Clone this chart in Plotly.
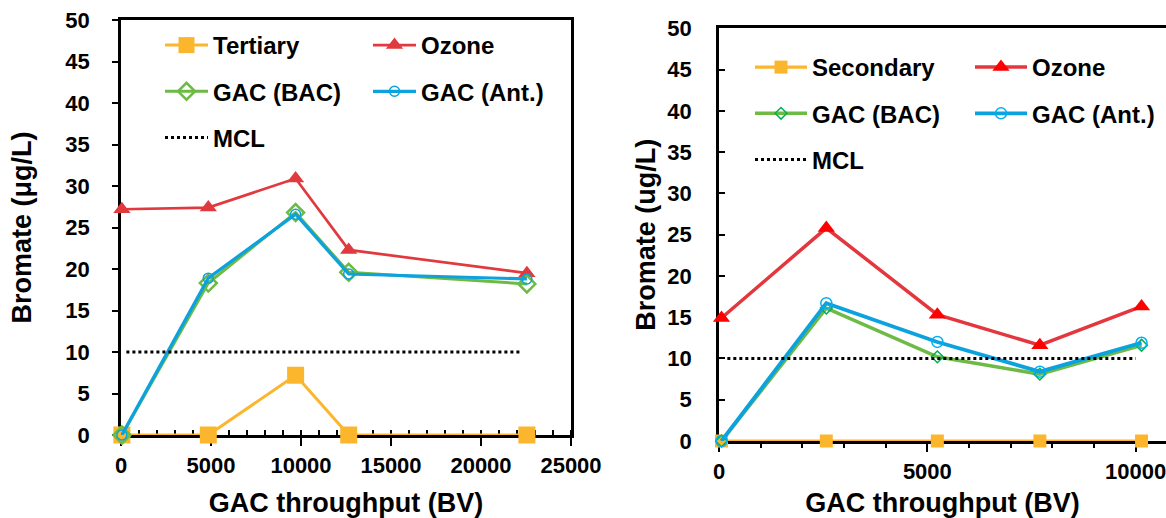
import plotly.graph_objects as go

# ---- Left panel: tertiary effluent ----
bv_left = [50, 4850, 9700, 12650, 22550]
tertiary = [0, 0, 7.2, 0, 0]
ozone_left = [27.2, 27.4, 30.9, 22.3, 19.5]
gac_bac_left = [0, 18.3, 26.8, 19.6, 18.2]
gac_ant_left = [0, 18.9, 26.6, 19.4, 18.8]
mcl_left_x = [300, 22300]
mcl_left_y = [10, 10]

# ---- Right panel: secondary effluent ----
bv_right = [60, 2575, 5240, 7700, 10140]
secondary = [0, 0, 0, 0, 0]
ozone_right = [14.9, 25.8, 15.3, 11.6, 16.3]
gac_bac_right = [0, 16.1, 10.2, 8.1, 11.6]
gac_ant_right = [0, 16.7, 12.0, 8.4, 11.9]
mcl_right_x = [200, 10000]
mcl_right_y = [10, 10]

# ---- Tick labels ----
y_ticks = [0, 5, 10, 15, 20, 25, 30, 35, 40, 45, 50]
x_ticks_left = [0, 5000, 10000, 15000, 20000, 25000]
x_ticks_right = [0, 5000, 10000]

FONT = "Liberation Sans, Arial, sans-serif"
ORANGE = "#FBB62D"
RED_LINE = "#E0393E"
GREEN = "#6DBA45"
BLUE = "#0BA2DE"

W, H = 1166, 518
ML, MR, MT, MB = 121, 0, 20, 77
PW, PH = W - ML - MR, H - MT - MB


def px_x(p):
    return (p - ML) / PW


def px_y(p):
    return (H - MB - p) / PH


def bold(v):
    return "<b>%s</b>" % v


fig = go.Figure()


def add(x, y, name, color, axes, legend, group, marker, width, dash=None, mode="lines+markers"):
    xa, ya = axes
    fig.add_trace(go.Scatter(
        x=x, y=y, name=bold(name), mode=mode, xaxis=xa, yaxis=ya,
        legend=legend, legendgroup=group, cliponaxis=False,
        line=dict(color=color, width=width, dash=dash),
        marker=marker,
    ))


L = ("x", "y")
R = ("x2", "y2")

# left panel traces
add(bv_left, tertiary, "Tertiary", ORANGE, L, "legend", "lt",
    dict(symbol="square", size=17, color=ORANGE), 3)
add(bv_left, ozone_left, "Ozone", RED_LINE, L, "legend2", "lo",
    dict(symbol="triangle-up", size=15, color=RED_LINE), 2.7)
add(bv_left, gac_bac_left, "GAC (BAC)", GREEN, L, "legend", "lb",
    dict(symbol="diamond-open", size=13, color=GREEN, line=dict(width=2.5, color=GREEN)), 3)
add(bv_left, gac_ant_left, "GAC (Ant.)", BLUE, L, "legend2", "la",
    dict(symbol="circle-open", size=10, color=BLUE, line=dict(width=1.5, color=BLUE)), 3.2)
add(mcl_left_x, mcl_left_y, "MCL", "black", L, "legend", "lm", None, 3, dash="dot", mode="lines")

# right panel traces
add(bv_right, secondary, "Secondary", ORANGE, R, "legend3", "rs",
    dict(symbol="square", size=13, color=ORANGE), 3.2)
add(bv_right, ozone_right, "Ozone", "#E3373D", R, "legend4", "ro",
    dict(symbol="triangle-up", size=15, color="#FF0000"), 3.5)
add(bv_right, gac_bac_right, "GAC (BAC)", GREEN, R, "legend3", "rb",
    dict(symbol="diamond-open", size=9, color="#00B050", line=dict(width=1.5, color="#00B050")), 3.5)
add(bv_right, gac_ant_right, "GAC (Ant.)", BLUE, R, "legend4", "ra",
    dict(symbol="circle-open", size=11, color="#00B0F0", line=dict(width=1.5, color="#00B0F0")), 3.8)
add(mcl_right_x, mcl_right_y, "MCL", "black", R, "legend3", "rm", None, 3, dash="dot", mode="lines")

tick_font = dict(family=FONT, size=22, color="black", weight=700)
title_font = dict(family=FONT, size=27, color="black", weight=700)
legend_font = dict(family=FONT, size=24, color="black", weight=700)

common_x = dict(showgrid=False, zeroline=False, showline=True, linecolor="black", linewidth=2.5,
                tickfont=tick_font, tickcolor="black", layer="below traces",
                tickmode="array", automargin=False, ticklabeloverflow="allow")
common_y = dict(showgrid=False, zeroline=False, showline=True, linecolor="black", linewidth=2.5,
                tickfont=tick_font, tickcolor="black", layer="below traces",
                range=[0, 50], tickmode="array", tickvals=y_ticks, automargin=False,
                ticktext=[bold(v) for v in y_ticks])

fig.update_layout(
    width=W, height=H,
    margin=dict(l=ML, r=MR, t=MT, b=MB),
    plot_bgcolor="white", paper_bgcolor="white",
    xaxis=dict(common_x, domain=[0, px_x(571)], range=[0, 25000],
               tickvals=x_ticks_left, ticktext=[bold(v) for v in x_ticks_left],
               anchor="y", mirror=True,
               ticks="outside", ticklen=8, tickwidth=2,
               minor=dict(dtick=1000, tick0=0, ticks="inside", ticklen=5, tickwidth=2, tickcolor="black"),
               ticklabelstandoff=1,
               title=dict(text=bold("GAC throughput (BV)"), font=title_font, standoff=23)),
    yaxis=dict(common_y, domain=[px_y(435), px_y(20)], anchor="x", mirror=True,
               ticks="outside", ticklen=6, tickwidth=2, ticklabelstandoff=18,
               title=dict(text=bold("Bromate (μg/L)"), font=title_font, standoff=26)),
    xaxis2=dict(common_x, domain=[px_x(719), 1.0], range=[0, 10727],
                tickvals=x_ticks_right, ticktext=[bold(v) for v in x_ticks_right],
                anchor="y2", mirror=True,
                ticks="outside", ticklen=8, tickwidth=2,
                minor=dict(dtick=1000, tick0=0, ticks="outside", ticklen=4, tickwidth=2, tickcolor="black"),
                ticklabelstandoff=1,
                title=dict(text=bold("GAC throughput (BV)"), font=title_font, standoff=28)),
    yaxis2=dict(common_y, domain=[px_y(441), px_y(28.3)], anchor="x2",
                ticks="inside", ticklen=6, tickwidth=2, ticklabelstandoff=20,
                title=dict(text=bold("Bromate (ug/L)"), font=title_font, standoff=4)),
    showlegend=True,
)

legend_common = dict(font=legend_font, bgcolor="rgba(0,0,0,0)", borderwidth=0,
                     orientation="v", tracegroupgap=12, xanchor="left", yanchor="top")
fig.update_layout(
    legend=dict(legend_common, x=px_x(160), y=px_y(23), itemwidth=43),
    legend2=dict(legend_common, x=px_x(368), y=px_y(23), itemwidth=43),
    legend3=dict(legend_common, x=px_x(750), y=px_y(45), itemwidth=52),
    legend4=dict(legend_common, x=px_x(970), y=px_y(45), itemwidth=52),
)

fig.write_html("out.html")
